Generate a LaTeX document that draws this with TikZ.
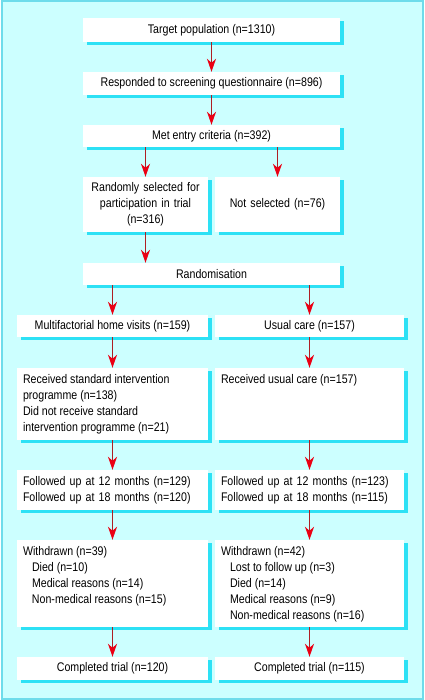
\documentclass[tikz,border=0pt]{standalone}
\usepackage{fontspec}
\setmainfont{Liberation Sans}[FakeStretch=0.85]
\usetikzlibrary{arrows.meta,shadows}

\definecolor{paleback}{RGB}{204,255,255}
\definecolor{edgecyan}{RGB}{110,220,235}
\definecolor{shadecyan}{RGB}{45,225,245}
\definecolor{shaftred}{RGB}{175,30,35}
\definecolor{tipred}{RGB}{235,0,20}

% text that sits at the top of a box of fixed size
\newcommand{\toplines}[3]{\parbox[c][#2][t]{#1}{\strut #3}}

\tikzset{
  box/.style={fill=white, inner xsep=6pt, inner ysep=4pt,
    font=\fontsize{12.5}{16}\selectfont,
    drop shadow={shadow xshift=4pt, shadow yshift=-3pt, fill=shadecyan, opacity=1}},
  flow/.style={draw=shaftred, line width=1.2pt,
    -{Stealth[length=13pt, width=9pt, inset=4pt, color=tipred]}}
}

\begin{document}
\begin{tikzpicture}[x=1pt, y=-1pt]
        \useasboundingbox (0,0) rectangle (424,700);
        \draw[edgecyan, line width=2pt, fill=paleback] (1.5,1.5) rectangle (422.5,698.5);

        % screening
        \node[box, minimum width=257pt, minimum height=24pt] (target) at (211.5,30) {Target population (n=1310)};
        \node[box, minimum width=257pt, minimum height=23pt] (screen) at (211.5,83.5) {Responded to screening questionnaire (n=896)};
        \node[box, minimum width=257pt, minimum height=22pt] (entry) at (211.5,136) {Met entry criteria (n=392)};

        % selection
        \node[box, text width=113pt, align=center, minimum height=55pt] (chosen) at (145.5,204.5) {Randomly selected for\\participation in trial\\(n=316)};
        \node[box, text width=113pt, align=center, minimum height=55pt] (notchosen) at (277.5,204.5) {Not selected (n=76)};
        \node[box, minimum width=257pt, minimum height=22pt] (random) at (211.5,274) {Randomisation};

        % left arm
        \node[box, minimum width=191pt, minimum height=22pt] (visits) at (112.5,326) {Multifactorial home visits (n=159)};
        \node[box] (givenA) at (112.5,404) {\toplines{179pt}{64pt}{Received standard intervention\\programme (n=138)\\Did not receive standard\\intervention programme (n=21)}};
        \node[box, text width=179pt, align=left, minimum height=40pt] (followA) at (112.5,490) {Followed up at 12 months (n=129)\\Followed up at 18 months (n=120)};
        \node[box] (outA) at (112.5,583.5) {\toplines{179pt}{79pt}{Withdrawn (n=39)\\\hspace*{9pt}Died (n=10)\\\hspace*{9pt}Medical reasons (n=14)\\\hspace*{9pt}Non-medical reasons (n=15)}};
        \node[box, minimum width=191pt, minimum height=23pt] (doneA) at (112.5,668.5) {Completed trial (n=120)};

        % right arm
        \node[box, minimum width=189pt, minimum height=22pt] (usual) at (309.5,326) {Usual care (n=157)};
        \node[box] (givenB) at (309.5,404) {\toplines{177pt}{64pt}{Received usual care (n=157)}};
        \node[box, text width=177pt, align=left, minimum height=40pt] (followB) at (309.5,490) {Followed up at 12 months (n=123)\\Followed up at 18 months (n=115)};
        \node[box] (outB) at (309.5,583.5) {\toplines{177pt}{79pt}{Withdrawn (n=42)\\\hspace*{9pt}Lost to follow up (n=3)\\\hspace*{9pt}Died (n=14)\\\hspace*{9pt}Medical reasons (n=9)\\\hspace*{9pt}Non-medical reasons (n=16)}};
        \node[box, minimum width=189pt, minimum height=23pt] (doneB) at (309.5,668.5) {Completed trial (n=115)};

        % arrows
        \draw[flow] (target) -- (screen);
        \draw[flow] (screen) -- (entry);
        \draw[flow] (entry.south -| chosen) -- (chosen);
        \draw[flow] (entry.south -| notchosen) -- (notchosen);
        \draw[flow] (chosen) -- (chosen |- random.north);
        \draw[flow] (random.south -| visits) -- (visits);
        \draw[flow] (random.south -| usual) -- (usual);
        \draw[flow] (visits) -- (givenA);
        \draw[flow] (givenA) -- (followA);
        \draw[flow] (followA) -- (outA);
        \draw[flow] (outA) -- (doneA);
        \draw[flow] (usual) -- (givenB);
        \draw[flow] (givenB) -- (followB);
        \draw[flow] (followB) -- (outB);
        \draw[flow] (outB) -- (doneB);
    \end{tikzpicture}
\end{document}
